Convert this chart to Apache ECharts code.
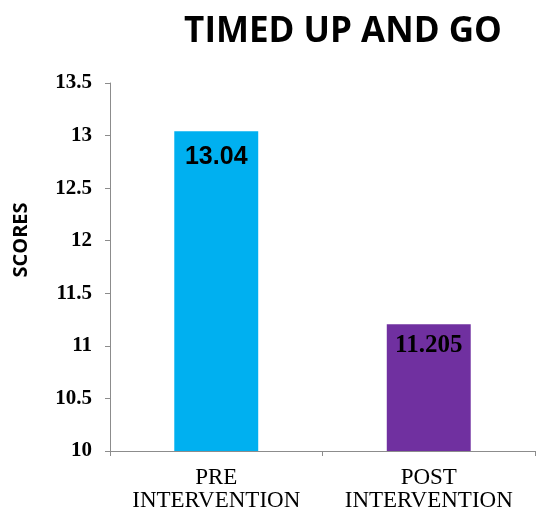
<!DOCTYPE html>
<html>
<head>
<meta charset="utf-8">
<script src="https://cdn.jsdelivr.net/npm/echarts@6/dist/echarts.min.js"></script>
<style>
html, body { margin: 0; padding: 0; background: #fff; }
#chart { width: 543px; height: 512px; }
</style>
</head>
<body>
<div id="chart"></div>
<script>
// Timed Up and Go scores, before and after the intervention
const categories = ['PRE\nINTERVENTION', 'POST\nINTERVENTION'];
const scores = [13.04, 11.205];
const barColors = ['#00B0F0', '#7030A0'];
const labelFonts = ['"Liberation Sans", Arial, sans-serif', '"Liberation Serif", "Times New Roman", serif'];
const labelGaps = [13, 9];

const chart = echarts.init(document.getElementById('chart'));
chart.setOption({
  animation: false,
  title: {
    text: 'TIMED UP AND GO',
    left: 338,
    top: 10,
    textAlign: 'center',
    textStyle: { fontFamily: '"Open Sans", sans-serif', fontWeight: 'bold', fontSize: 35, color: '#000' }
  },
  graphic: [{
    type: 'text',
    x: 21,
    y: 240,
    rotation: Math.PI / 2,
    style: {
      text: 'SCORES',
      fill: '#000',
      font: 'bold 20px "Open Sans", sans-serif',
      textAlign: 'center',
      textVerticalAlign: 'middle'
    }
  }],
  grid: { left: 110, right: 8, top: 83, bottom: 57, containLabel: false },
  xAxis: {
    type: 'category',
    data: categories,
    axisLine: { lineStyle: { color: '#8c8c8c', width: 1 } },
    axisTick: { show: true, length: 5, lineStyle: { color: '#8c8c8c' } },
    axisLabel: {
      interval: 0,
      hideOverlap: false,
      color: '#000',
      fontFamily: '"Liberation Serif", "Times New Roman", serif',
      fontSize: 23,
      lineHeight: 23,
      margin: 15
    }
  },
  yAxis: {
    type: 'value',
    min: 10,
    max: 13.5,
    interval: 0.5,
    splitLine: { show: false },
    axisLine: { show: true, lineStyle: { color: '#8c8c8c', width: 1 } },
    axisTick: { show: true, length: 5, lineStyle: { color: '#8c8c8c' } },
    axisLabel: {
      color: '#000',
      fontFamily: '"Liberation Serif", "Times New Roman", serif',
      fontWeight: 'bold',
      fontSize: 21,
      margin: 18
    }
  },
  series: [{
    type: 'bar',
    barWidth: '39.5%',
    data: scores.map((v, i) => ({
      value: v,
      itemStyle: { color: barColors[i] },
      label: {
        show: true,
        position: 'insideTop',
        distance: labelGaps[i],
        color: '#000',
        fontWeight: 'bold',
        fontSize: 25,
        fontFamily: labelFonts[i],
        formatter: String(v)
      }
    }))
  }]
});
</script>
</body>
</html>
